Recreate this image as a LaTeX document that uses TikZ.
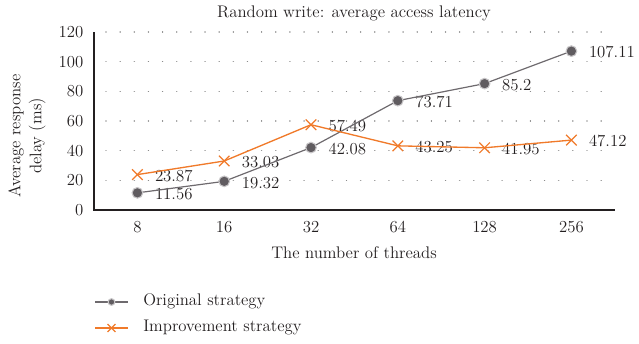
\documentclass[tikz,border=0pt]{standalone}
\usepackage{fontspec}
\usetikzlibrary{shapes.misc}
\definecolor{origline}{RGB}{110,106,110}
\definecolor{origfill}{RGB}{96,92,96}
\definecolor{orighalo}{RGB}{200,198,200}
\definecolor{imprline}{RGB}{240,122,42}
\definecolor{gridgray}{RGB}{140,140,140}
\definecolor{textdark}{RGB}{35,31,32}
\begin{document}
\begin{tikzpicture}[x=0.75pt,y=-0.75pt,
  font=\fontsize{12.6}{15.6}\selectfont,
  gridline/.style={gridgray,line width=1.1pt,line cap=round,dash pattern=on 0.01pt off 10.6pt},
  axisline/.style={textdark,line width=0.8pt},
  origseries/.style={origline,line width=0.9pt},
  imprseries/.style={imprline,line width=1pt},
  origmark/.style={circle,fill=origfill,draw=orighalo,line width=0.8pt,minimum size=8pt,inner sep=0pt},
  imprmark/.style={cross out,draw=imprline,line width=0.9pt,minimum size=7pt,inner sep=0pt},
  vlabel/.style={anchor=west,inner sep=0pt,text=textdark},
  ticklabel/.style={inner sep=0pt,text=textdark}]
\useasboundingbox (0,0) rectangle (639,343);

% dotted horizontal grid
\foreach \v in {20,40,...,120}
  \draw[gridline] (106,{210-1.48333*\v}) -- (612,{210-1.48333*\v});

% value-axis labels
\foreach \v in {0,20,...,120}
  \node[ticklabel,anchor=east] (yt\v) at (83.5,{210-1.48333*\v}) {\v};

% axes
\coordinate (corner) at (94,210);
\coordinate (ytop) at (94,32);
\coordinate (xend) at (615,210);
\draw[axisline] (ytop) -- (corner) -- (xend);

% category positions, data points and labels
\foreach \lab/\o/\m [count=\k] in {8/11.56/23.87,16/19.32/33.03,32/42.08/57.49,64/73.71/43.25,128/85.2/41.95,256/107.11/47.12} {
  \coordinate (o\k) at ({94+86.8*(\k-0.5)},{210-1.48333*\o});
  \coordinate (m\k) at ({94+86.8*(\k-0.5)},{210-1.48333*\m});
  \node[ticklabel] (xt\k) at ({94+86.8*(\k-0.5)},227) {\lab};
  \node[vlabel] (ol\k) at ([xshift=13pt,yshift=-1pt]o\k) {\o};
  \node[vlabel] (ml\k) at ([xshift=13pt,yshift=-1pt]m\k) {\m};
}

% series lines
\draw[origseries] (o1) -- (o2) -- (o3) -- (o4) -- (o5) -- (o6);
\draw[imprseries] (m1) -- (m2) -- (m3) -- (m4) -- (m5) -- (m6);

% markers
\foreach \k in {1,...,6} {
  \node[origmark] (op\k) at (o\k) {};
  \node[imprmark] (mp\k) at (m\k) {};
}

% titles
\node[ticklabel] (title) at (354,13) {Random write: average access latency};
\node[ticklabel] (xtitle) at (354,253) {The number of threads};
\node[ticklabel,rotate=90,align=center] (ytitle) at (27,136) {Average response\\delay (ms)};

% legend
\coordinate (la1) at (95,302);
\coordinate (lb1) at (128,302);
\coordinate (la2) at (95,328);
\coordinate (lb2) at (128,328);
\draw[origseries] (la1) -- (lb1);
\node[origmark,minimum size=5pt] (lm1) at (111.5,302) {};
\draw[imprseries] (la2) -- (lb2);
\node[imprmark,minimum size=5pt] (lm2) at (111.5,328) {};
\node[ticklabel,anchor=west] (lt1) at (143,301) {Original strategy};
\node[ticklabel,anchor=west] (lt2) at (143,327) {Improvement strategy};
\end{tikzpicture}
\end{document}
